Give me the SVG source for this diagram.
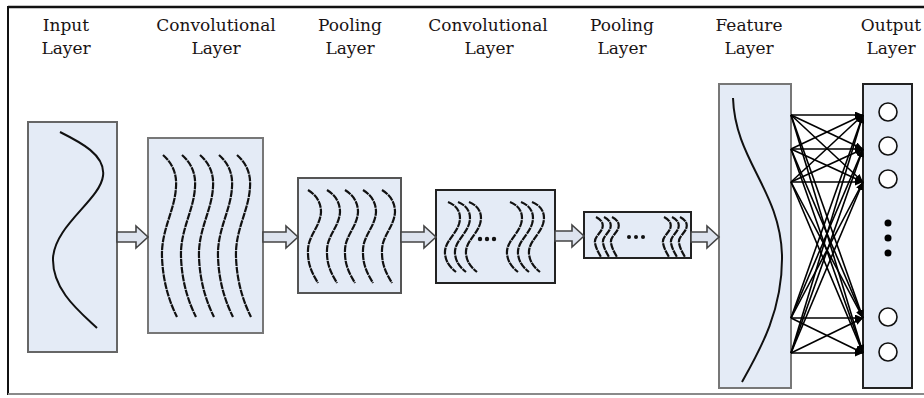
<svg xmlns="http://www.w3.org/2000/svg" width="924" height="398" viewBox="0 0 924 398">
<style>
.lbl{font-family:"DejaVu Serif",serif;font-size:17px;fill:#1a1414;text-anchor:middle}
.box{fill:#e4ebf6;stroke-width:2}
.wave{fill:none;stroke:#111;stroke-width:2.2;stroke-dasharray:7 0.8}
.curve{fill:none;stroke:#111;stroke-width:2}
.arr{fill:#dde3ee;stroke:#444;stroke-width:1.6;stroke-linejoin:miter}
.fc{stroke:#000;stroke-width:1.6;marker-end:url(#ah)}
.neuron{fill:#fff;stroke:#111;stroke-width:1.6}
</style>
<defs>
<marker id="ah" markerUnits="userSpaceOnUse" markerWidth="8" markerHeight="7" refX="8" refY="3.5" orient="auto">
<path d="M0,0 L8,3.5 L0,7 z" fill="#000"/>
</marker>
<path id="wC" class="wave" d="M0,0 C9,8 14,18 13,32 C12,55 -2,75 -1,102 C0,130 8,150 14,162"/>
<path id="wP" class="wave" d="M0,0 C8,5 13,12 13,22 C12,38 -1,46 0,63 C0,77 6,86 10,93"/>
<path id="wC2" class="wave" d="M0,0 C10,4 14,12 11,22 C7,34 -4,40 -3,52 C-2,61 3,66 8,70"/>
<path id="wP2" class="wave" d="M0,0 C6,3 8,7 6,12 C4,17 -2,20 -1,26 C0,31 2,35 5,40"/>
</defs>
<rect width="924" height="398" fill="#fff"/>
<line x1="8" y1="7" x2="924" y2="7" stroke="#111" stroke-width="2.5"/>
<line x1="8" y1="6" x2="8" y2="395" stroke="#111" stroke-width="2"/>
<line x1="8" y1="394" x2="924" y2="394" stroke="#8a8a8a" stroke-width="2"/>

<g id="labels">
<text class="lbl" x="66" y="31">Input</text><text class="lbl" x="66" y="54">Layer</text>
<text class="lbl" x="216" y="31">Convolutional</text><text class="lbl" x="216" y="54">Layer</text>
<text class="lbl" x="350" y="31">Pooling</text><text class="lbl" x="350" y="54">Layer</text>
<text class="lbl" x="488" y="31">Convolutional</text><text class="lbl" x="489" y="54">Layer</text>
<text class="lbl" x="622" y="31">Pooling</text><text class="lbl" x="622" y="54">Layer</text>
<text class="lbl" x="749" y="31">Feature</text><text class="lbl" x="749" y="54">Layer</text>
<text class="lbl" x="891" y="31">Output</text><text class="lbl" x="891" y="54">Layer</text>
</g>

<g id="input-layer">
<rect class="box" x="28" y="122" width="89" height="230" stroke="#666"/>
<path class="curve" d="M60,132 C80,142 106,155 103,176 C100,200 55,225 53,258 C52,290 80,312 97,328"/>
</g>

<g id="conv-layer-1">
<rect class="box" x="148" y="138" width="115" height="195" stroke="#777"/>
<use href="#wC" x="163" y="155"/>
<use href="#wC" x="182" y="155"/>
<use href="#wC" x="200" y="155"/>
<use href="#wC" x="219" y="155"/>
<use href="#wC" x="237" y="155"/>
</g>

<g id="pool-layer-1">
<rect class="box" x="298" y="178" width="103" height="115" stroke="#555"/>
<use href="#wP" x="308" y="190"/>
<use href="#wP" x="327" y="190"/>
<use href="#wP" x="345" y="190"/>
<use href="#wP" x="363" y="190"/>
<use href="#wP" x="382" y="190"/>
</g>

<g id="conv-layer-2">
<rect class="box" x="436" y="190" width="119" height="93" stroke="#222"/>
<use href="#wC2" x="448" y="202"/>
<use href="#wC2" x="458" y="202"/>
<use href="#wC2" x="469" y="202"/>
<use href="#wC2" x="510" y="202"/>
<use href="#wC2" x="521" y="202"/>
<use href="#wC2" x="532" y="202"/>
<circle cx="480" cy="239" r="2.2" fill="#111"/>
<circle cx="487" cy="239" r="2.2" fill="#111"/>
<circle cx="494" cy="239" r="2.2" fill="#111"/>
</g>

<g id="pool-layer-2">
<rect class="box" x="584" y="212" width="107" height="46" stroke="#222"/>
<use href="#wP2" x="596" y="217"/>
<use href="#wP2" x="604" y="217"/>
<use href="#wP2" x="612" y="217"/>
<use href="#wP2" x="664" y="217"/>
<use href="#wP2" x="672" y="217"/>
<use href="#wP2" x="680" y="217"/>
<circle cx="629" cy="237" r="2" fill="#111"/>
<circle cx="636" cy="237" r="2" fill="#111"/>
<circle cx="643" cy="237" r="2" fill="#111"/>
</g>

<g id="feature-layer">
<rect class="box" x="719" y="84" width="72" height="304" stroke="#777"/>
<path class="curve" d="M733,98 C735,160 780,190 782,255 C783,310 760,350 742,382" stroke-width="1.8"/>
</g>

<g id="output-layer">
<rect class="box" x="863" y="84" width="49" height="304" stroke="#222"/>
<circle class="neuron" cx="888" cy="112" r="9"/>
<circle class="neuron" cx="888" cy="146" r="9"/>
<circle class="neuron" cx="888" cy="179" r="9"/>
<circle cx="888" cy="223" r="3.5" fill="#000"/>
<circle cx="888" cy="238" r="3.5" fill="#000"/>
<circle cx="888" cy="253" r="3.5" fill="#000"/>
<circle class="neuron" cx="888" cy="317" r="9"/>
<circle class="neuron" cx="888" cy="352" r="9"/>
</g>

<g id="connectors">
<polygon class="arr" points="117,232 136,232 136,226 148,237 136,248 136,242 117,242"/>
<polygon class="arr" points="263,232 286,232 286,226 298,237 286,248 286,242 263,242"/>
<polygon class="arr" points="401,232 424,232 424,226 436,237 424,248 424,242 401,242"/>
<polygon class="arr" points="555,231 572,231 572,225 584,236 572,247 572,241 555,241"/>
<polygon class="arr" points="691,232 707,232 707,226 719,237 707,248 707,242 691,242"/>
<g id="full-connections">
<line class="fc" x1="791" y1="115" x2="863" y2="115"/>
<line class="fc" x1="791" y1="115" x2="863" y2="149"/>
<line class="fc" x1="791" y1="115" x2="863" y2="182"/>
<line class="fc" x1="791" y1="115" x2="863" y2="318"/>
<line class="fc" x1="791" y1="115" x2="863" y2="353"/>
<line class="fc" x1="791" y1="149" x2="863" y2="115"/>
<line class="fc" x1="791" y1="149" x2="863" y2="149"/>
<line class="fc" x1="791" y1="149" x2="863" y2="182"/>
<line class="fc" x1="791" y1="149" x2="863" y2="318"/>
<line class="fc" x1="791" y1="149" x2="863" y2="353"/>
<line class="fc" x1="791" y1="182" x2="863" y2="115"/>
<line class="fc" x1="791" y1="182" x2="863" y2="149"/>
<line class="fc" x1="791" y1="182" x2="863" y2="182"/>
<line class="fc" x1="791" y1="182" x2="863" y2="318"/>
<line class="fc" x1="791" y1="182" x2="863" y2="353"/>
<line class="fc" x1="791" y1="318" x2="863" y2="115"/>
<line class="fc" x1="791" y1="318" x2="863" y2="149"/>
<line class="fc" x1="791" y1="318" x2="863" y2="182"/>
<line class="fc" x1="791" y1="318" x2="863" y2="318"/>
<line class="fc" x1="791" y1="318" x2="863" y2="353"/>
<line class="fc" x1="791" y1="353" x2="863" y2="115"/>
<line class="fc" x1="791" y1="353" x2="863" y2="149"/>
<line class="fc" x1="791" y1="353" x2="863" y2="182"/>
<line class="fc" x1="791" y1="353" x2="863" y2="318"/>
<line class="fc" x1="791" y1="353" x2="863" y2="353"/>
</g>
</g>
</svg>
